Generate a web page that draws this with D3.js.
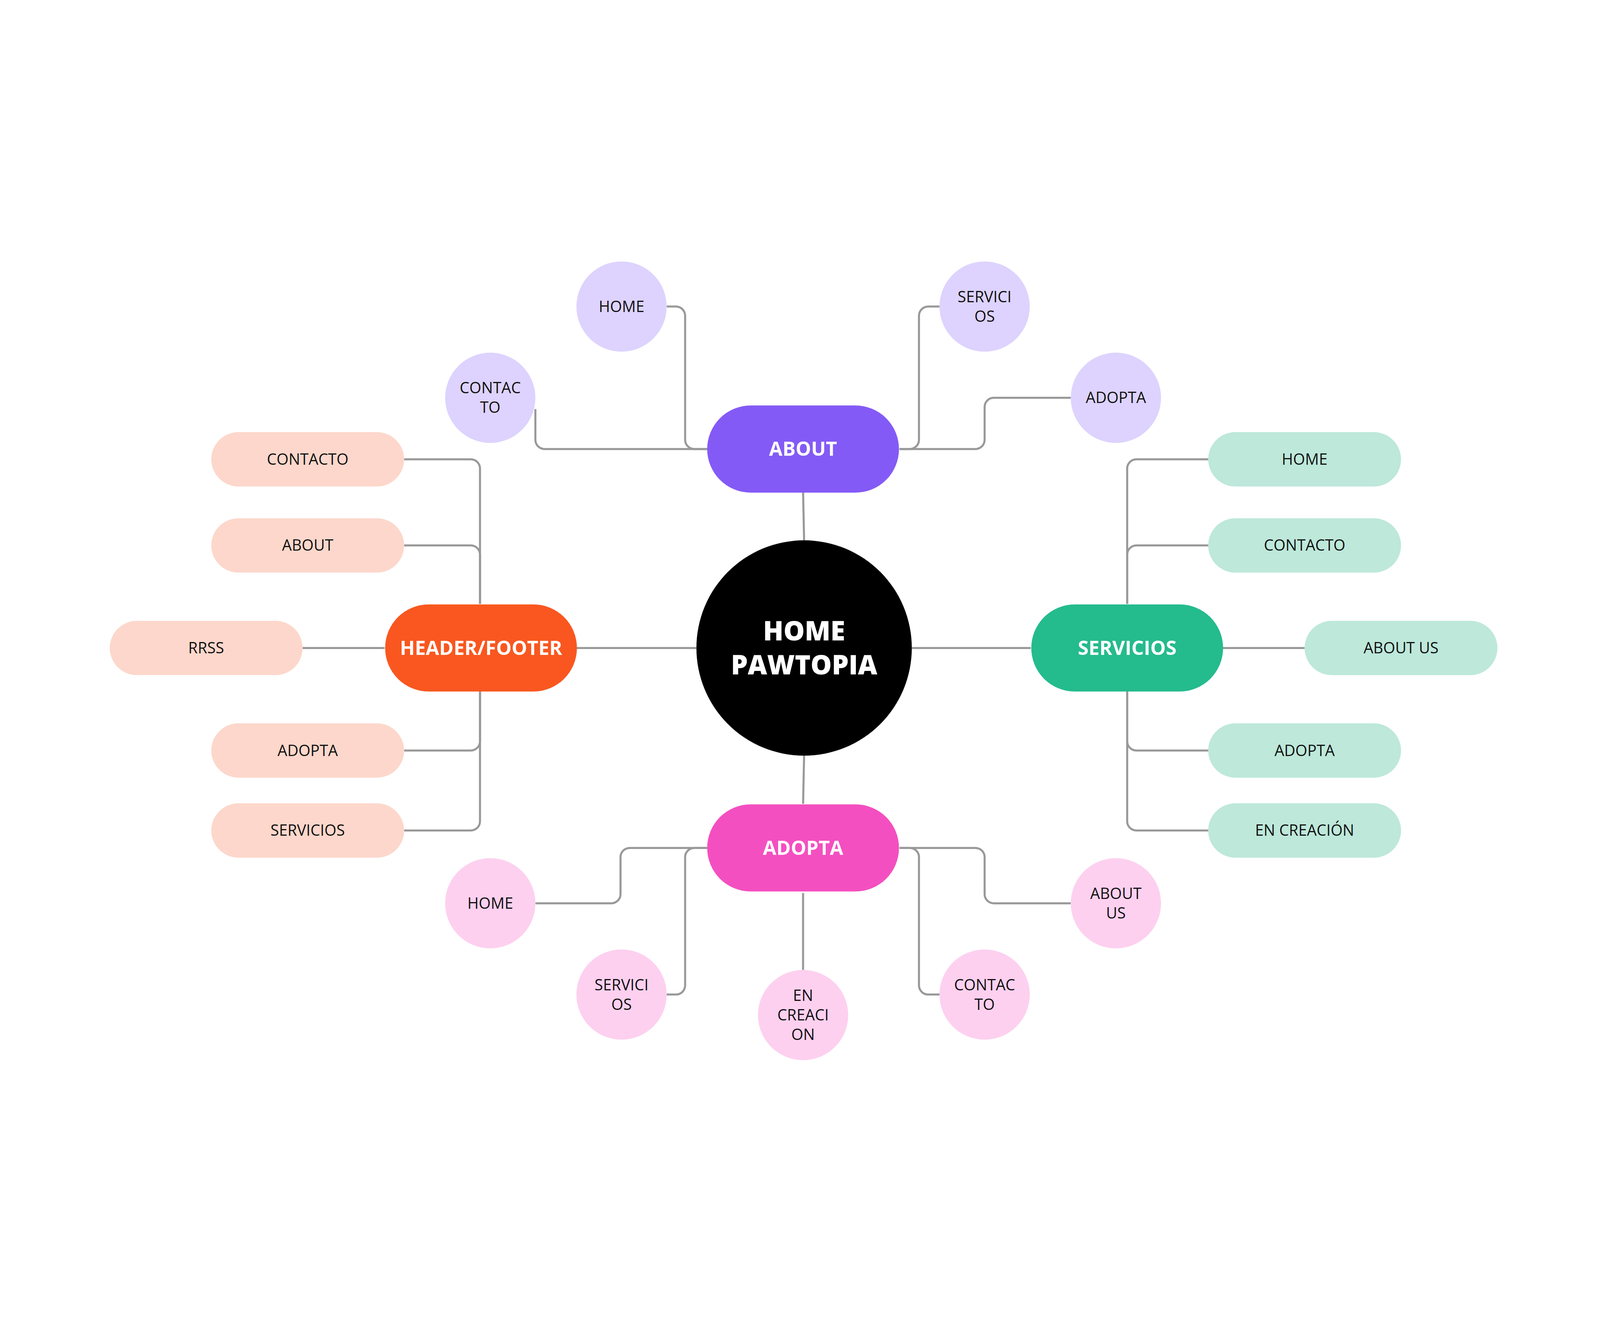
<!DOCTYPE html>
<html><head><meta charset="utf-8">
<script src="https://cdn.jsdelivr.net/npm/d3@7"></script>
<style>html,body{margin:0;padding:0;background:#fff;overflow:hidden;width:100vw;height:100vh}svg{display:block;width:100vw;height:100vh}</style>
</head><body>
<script>
// ---- data ----
const rootLabel = ["HOME", "PAWTOPIA"];
const branches = ["ABOUT", "HEADER/FOOTER", "SERVICIOS", "ADOPTA"];
const aboutChildren = [["HOME"], ["CONTAC","TO"], ["SERVICI","OS"], ["ADOPTA"]];
const headerChildren = ["CONTACTO", "ABOUT", "RRSS", "ADOPTA", "SERVICIOS"];
const serviciosChildren = ["HOME", "CONTACTO", "ABOUT US", "ADOPTA", "EN CREACIÓN"];
const adoptaChildren = [["HOME"], ["SERVICI","OS"], ["EN","CREACI","ON"], ["CONTAC","TO"], ["ABOUT","US"]];

// ---- layout (1560 x 877.5 design space) ----
const VW = 1560, VH = 877.5;
const svg = d3.select("body").append("svg")
  .attr("viewBox", `0 0 ${VW} ${VH}`).attr("preserveAspectRatio", "xMidYMid meet");
const font = "'Open Sans', 'DejaVu Sans', sans-serif";
const lineG = svg.append("g"), nodeG = svg.append("g");

function rounded(pts, r = 9) {
  const p = d3.path();
  p.moveTo(pts[0][0], pts[0][1]);
  for (let i = 1; i < pts.length - 1; i++) p.arcTo(pts[i][0], pts[i][1], pts[i+1][0], pts[i+1][1], r);
  p.lineTo(pts[pts.length-1][0], pts[pts.length-1][1]);
  return p.toString();
}
function link(pts) {
  lineG.append("path").attr("d", rounded(pts)).attr("fill", "none")
    .attr("stroke", "#999").attr("stroke-width", 2);
}
function label(x, y, lines, size, color, weight) {
  const lh = size * 1.27;
  const t = nodeG.append("text").attr("x", x).attr("text-anchor", "middle")
    .attr("font-family", font).attr("font-size", size).attr("fill", color).attr("font-weight", weight);
  lines.forEach((s, i) => t.append("tspan").attr("x", x)
    .attr("y", y + (i - (lines.length - 1) / 2) * lh).attr("dy", "0.35em").text(s));
}
function pill(cx, cy, w, h, fill, lines, size, color, weight) {
  nodeG.append("rect").attr("x", cx - w/2).attr("y", cy - h/2).attr("width", w).attr("height", h)
    .attr("rx", h/2).attr("ry", h/2).attr("fill", fill);
  label(cx, cy, lines, size, color, weight);
}
function circle(cx, cy, r, fill, lines, size, color, weight) {
  nodeG.append("circle").attr("cx", cx).attr("cy", cy).attr("r", r).attr("fill", fill);
  label(cx, cy, lines, size, color, weight);
}

const cx = 784, cy = 428;
const bPos = [[783,234],[469,428],[1099,428],[783,623]];
const bCol = ["#845AF6","#F9571F","#24BB8D","#F44FC0"];
const BW = 187, BH = 85;

link([[783, 276], [784, 323]]);
link([[783, 580], [784, 533]]);
link([[562, 428], [679, 428]]);
link([[889, 428], [1005, 428]]);

const aPos = [[606,95],[478,184],[960,95],[1088,184]];
link([[650,95],[668,95],[668,234],[690,234]]);
link([[522,195],[522,234],[690,234]]);
link([[916,95],[896,95],[896,234],[877,234]]);
link([[1044,184],[960,184],[960,234],[877,234]]);
aboutChildren.forEach((t,i)=>circle(aPos[i][0],aPos[i][1],44,"#DDD3FE",t,15,"#111",400));

const hPos = [[300,244],[300,328],[201,428],[300,528],[300,606]];
headerChildren.forEach((t,i)=>{
  const [x,y] = hPos[i];
  if (i===2) link([[x+94,y],[375,y]]);
  else link([[x+94,y],[468,y],[468,i<2?385:470]]);
});
headerChildren.forEach((t,i)=>pill(hPos[i][0],hPos[i][1],188,53,"#FDD7CB",[t],15,"#111",400));

const sPos = [[1272,244],[1272,328],[1366,428],[1272,528],[1272,606]];
serviciosChildren.forEach((t,i)=>{
  const [x,y] = sPos[i];
  if (i===2) link([[x-94,y],[1192,y]]);
  else link([[x-94,y],[1099,y],[1099,i<2?385:470]]);
});
serviciosChildren.forEach((t,i)=>pill(sPos[i][0],sPos[i][1],188,53,"#BDE8DA",[t],15,"#111",400));

const dPos = [[478,677],[606,766],[783,786],[960,766],[1088,677]];
link([[522,677],[605,677],[605,623],[690,623]]);
link([[650,766],[668,766],[668,623],[690,623]]);
link([[783,742],[783,667]]);
link([[916,766],[896,766],[896,623],[877,623]]);
link([[1044,677],[960,677],[960,623],[877,623]]);
adoptaChildren.forEach((t,i)=>circle(dPos[i][0],dPos[i][1],44,"#FDD0EF",t,15,"#111",400));

branches.forEach((b,i)=>pill(bPos[i][0],bPos[i][1],BW,BH,bCol[i],[b],19,"#fff",700));

circle(cx, cy, 105, "#000", rootLabel, 26, "#fff", 800);
</script>
</body></html>
